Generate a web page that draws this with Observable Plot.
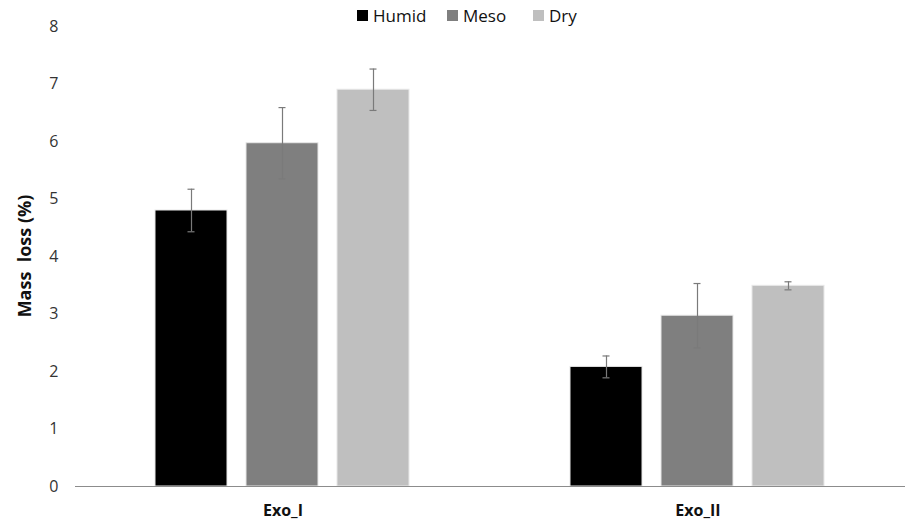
<!DOCTYPE html>
<html><head><meta charset="utf-8">
<script src="https://cdn.jsdelivr.net/npm/d3@7"></script>
<script src="https://cdn.jsdelivr.net/npm/@observablehq/plot@0.6"></script>
<style>
body{margin:0;background:#fff;font-family:"Open Sans",sans-serif;}
#wrap{position:relative;width:905px;height:525px;}
#legend{position:absolute;top:4px;left:0;width:905px;height:26px;font-size:17px;color:#111;}
#legend span{position:absolute;display:flex;align-items:center;white-space:nowrap;}
#legend i{display:inline-block;width:11px;height:11px;margin-right:5px;}
#ylab{position:absolute;left:24px;top:256px;transform:translate(-50%,-50%) rotate(-90deg);font-weight:bold;font-size:18px;white-space:nowrap;color:#111;}
</style></head>
<body><div id="wrap"><div id="legend"></div><div id="ylab">Mass &nbsp;loss (%)</div></div>
<script>
const groups = ["Exo_I", "Exo_II"];
const series = ["Humid", "Meso", "Dry"];
const colors = ["#000000", "#7f7f7f", "#bfbfbf"];
const humid = [4.80, 2.08];
const meso = [5.97, 2.97];
const dry = [6.90, 3.49];
const humidErr = [0.37, 0.19];
const mesoErr = [0.62, 0.56];
const dryErr = [0.36, 0.07];
const yTicks = [0,1,2,3,4,5,6,7,8];

const vals = [humid, meso, dry];
const errs = [humidErr, mesoErr, dryErr];
const data = [];
groups.forEach((g, gi) => series.forEach((s, si) => data.push({group: g, series: s, value: vals[si][gi], err: errs[si][gi]})));

const legLeft = [357, 447, 533];
const leg = document.getElementById("legend");
series.forEach((s, i) => {
  const sp = document.createElement("span");
  sp.style.left = legLeft[i] + "px";
  sp.innerHTML = `<i style="background:${colors[i]}"></i>${s}`;
  leg.appendChild(sp);
});

const chart = Plot.plot({
  width: 905, height: 525,
  marginLeft: 75, marginRight: 0, marginTop: 26, marginBottom: 39,
  style: {fontFamily: "Open Sans, sans-serif", background: "transparent"},
  fx: {domain: groups, padding: 0, label: null},
  x: {domain: series, paddingInner: 0.2065, paddingOuter: 0.859, axis: null},
  y: {domain: [0, 8], axis: null},
  color: {domain: series, range: colors},
  marks: [
    Plot.axisY({ticks: yTicks, tickSize: 0, tickPadding: 17, fontSize: 16, color: "#333", label: null, tickFormat: d3.format("d")}),
    Plot.axisFx({anchor: "bottom", tickSize: 0, tickPadding: 18, fontSize: 16, fontWeight: "bold", color: "#111", label: null}),
    Plot.barY(data, {fx: "group", x: "series", y: "value", fill: "series", stroke: "#e8e8e8", strokeWidth: 1}),
    Plot.ruleY([0], {stroke: "#8c8c8c", strokeWidth: 1}),
    Plot.ruleX(data, {fx: "group", x: "series", y1: d => d.value - d.err, y2: d => d.value + d.err, stroke: "#7a7a7a", strokeWidth: 1.2}),
    Plot.tickY(data, {fx: "group", x: "series", y: d => d.value + d.err, stroke: "#7a7a7a", strokeWidth: 1.2, insetLeft: 32.5, insetRight: 32.5}),
    Plot.tickY(data, {fx: "group", x: "series", y: d => d.value - d.err, stroke: "#7a7a7a", strokeWidth: 1.2, insetLeft: 32.5, insetRight: 32.5})
  ]
});
document.getElementById("wrap").prepend(chart);
</script></body></html>
